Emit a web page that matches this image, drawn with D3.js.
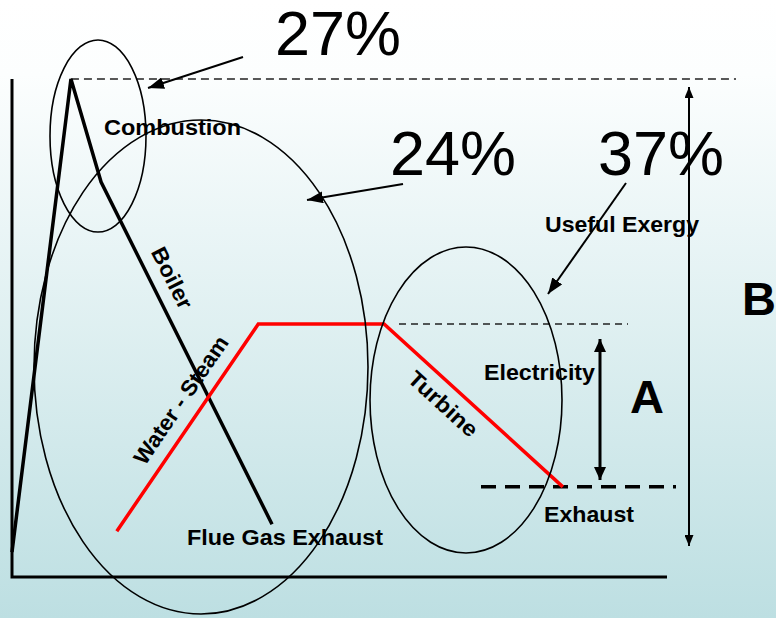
<!DOCTYPE html>
<html><head><meta charset="utf-8">
<script src="https://cdn.jsdelivr.net/npm/d3@7"></script>
<style>html,body{margin:0;padding:0;background:#fff;}svg{display:block;}</style>
</head><body>
<script>
// ---- data (abstract units: x = process stage 0..100, y = exergy level 0..100) ----
const fluePath = [ {x:0, y:5.0}, {x:9.0, y:100}, {x:13.6, y:79.3}, {x:39.7, y:10.6} ];
const steamPath = [ {x:16.0, y:9.2}, {x:37.6, y:50.8}, {x:56.8, y:50.8}, {x:84.1, y:18.1} ];
const topLevel = 100;
const electricityLevel = 50.8;
const exhaustLevel = 18.1;
const lossLabels = ["27%", "24%", "37%"];
const stageLabels = ["Combustion", "Boiler", "Water - Steam", "Turbine", "Flue Gas Exhaust", "Electricity", "Exhaust", "Useful Exergy"];

const W = 776, H = 618;
const x = d3.scaleLinear().domain([0, 100]).range([12, 667]);
const y = d3.scaleLinear().domain([0, 100]).range([577, 79]);

const svg = d3.select("body").append("svg").attr("width", W).attr("height", H);
const defs = svg.append("defs");
const grad = defs.append("linearGradient").attr("id","bg").attr("x1",0).attr("y1",0).attr("x2",0).attr("y2",1);
grad.append("stop").attr("offset","0%").attr("stop-color","#ffffff");
grad.append("stop").attr("offset","12%").attr("stop-color","#fcfefe");
grad.append("stop").attr("offset","100%").attr("stop-color","#bddfe2");
svg.append("rect").attr("width",W).attr("height",H).attr("fill","url(#bg)");

function marker(id, len, wid) {
  defs.append("marker").attr("id", id).attr("viewBox", `0 0 ${len} ${wid}`)
    .attr("refX", len).attr("refY", wid/2).attr("markerWidth", len).attr("markerHeight", wid)
    .attr("markerUnits","userSpaceOnUse").attr("orient","auto-start-reverse")
    .append("path").attr("d", `M0,0L${len},${wid/2}L0,${wid}Z`).attr("fill","#000");
}
marker("ah", 16, 12);
marker("ahA", 13, 12);
marker("ahB", 11, 9);

const font = "'Liberation Sans', Arial, Helvetica, sans-serif";

// axes
const axis = svg.append("g").attr("stroke","#000").attr("stroke-width",3).attr("fill","none");
axis.append("path").attr("d", d3.line()([[x(0), y(100)], [x(0), y(0)], [x(100), y(0)]]));

// reference dashed lines
svg.append("line").attr("x1", x(9.0)).attr("x2", 736).attr("y1", y(topLevel)).attr("y2", y(topLevel))
  .attr("stroke","#222").attr("stroke-width",1.6).attr("stroke-dasharray","8,5");
svg.append("line").attr("x1", 399).attr("x2", 628).attr("y1", y(electricityLevel)).attr("y2", y(electricityLevel))
  .attr("stroke","#222").attr("stroke-width",1.5).attr("stroke-dasharray","7,5");
svg.append("line").attr("x1", 481).attr("x2", 676).attr("y1", y(exhaustLevel)).attr("y2", y(exhaustLevel))
  .attr("stroke","#000").attr("stroke-width",3.5).attr("stroke-dasharray","15,9");

const line = d3.line().x(d => x(d.x)).y(d => y(d.y));
svg.append("path").datum(fluePath).attr("d", line).attr("fill","none")
  .attr("stroke","#000").attr("stroke-width",3.5).attr("stroke-linejoin","miter");
svg.append("path").datum(steamPath).attr("d", line).attr("fill","none")
  .attr("stroke","#f00").attr("stroke-width",3.5).attr("stroke-linejoin","miter");

// ellipses
const ell = svg.append("g").attr("fill","none").attr("stroke","#000").attr("stroke-width",1.6);
[[98,136,48,96],[201,367,167,247],[466,400,96,153]].forEach(e =>
  ell.append("ellipse").attr("cx",e[0]).attr("cy",e[1]).attr("rx",e[2]).attr("ry",e[3]));

// pointer arrows
const arr = svg.append("g").attr("stroke","#000").attr("stroke-width",2).attr("fill","none");
[[243,57,148,88],[403,184,307,200],[626,183,548,294]].forEach(a =>
  arr.append("line").attr("x1",a[0]).attr("y1",a[1]).attr("x2",a[2]).attr("y2",a[3]).attr("marker-end","url(#ah)"));

// A double arrow
svg.append("line").attr("x1",600).attr("x2",600).attr("y1",339).attr("y2",480)
  .attr("stroke","#000").attr("stroke-width",3).attr("marker-start","url(#ahA)").attr("marker-end","url(#ahA)");
// B double arrow
svg.append("line").attr("x1",689).attr("x2",689).attr("y1",87).attr("y2",546)
  .attr("stroke","#000").attr("stroke-width",2).attr("marker-start","url(#ahB)").attr("marker-end","url(#ahB)");

// percent labels
const pct = [[275,55],[390,175],[598,175]];
lossLabels.forEach((t,i) => svg.append("text").attr("x",pct[i][0]).attr("y",pct[i][1])
  .attr("font-family",font).attr("font-size",63).attr("textLength",126).attr("lengthAdjust","spacingAndGlyphs").text(t));

// big letters
svg.append("text").attr("x",630).attr("y",413).attr("font-family",font).attr("font-weight","bold").attr("font-size",47).text("A");
svg.append("text").attr("x",742).attr("y",315).attr("font-family",font).attr("font-weight","bold").attr("font-size",47).text("B");

// stage labels
const lab = [
  {t:stageLabels[0], x:104, y:135, len:137},
  {t:stageLabels[4], x:187, y:545, len:196},
  {t:stageLabels[5], x:484, y:380, len:111},
  {t:stageLabels[6], x:544, y:522, len:90},
  {t:stageLabels[7], x:545, y:232, len:154}
];
lab.forEach(d => svg.append("text").attr("x",d.x).attr("y",d.y).attr("font-family",font)
  .attr("font-weight","bold").attr("font-size",22).attr("textLength",d.len).attr("lengthAdjust","spacingAndGlyphs").text(d.t));

const rot = [
  {t:stageLabels[1], cx:172, cy:278, a:63.4, len:66},
  {t:stageLabels[2], cx:181, cy:400, a:-55.7, len:150},
  {t:stageLabels[3], cx:443, cy:404, a:42.3, len:86}
];
rot.forEach(d => svg.append("text").attr("transform",`translate(${d.cx},${d.cy}) rotate(${d.a})`)
  .attr("text-anchor","middle").attr("dominant-baseline","central").attr("font-family",font)
  .attr("font-weight","bold").attr("font-size",22).attr("textLength",d.len).attr("lengthAdjust","spacingAndGlyphs").text(d.t));
</script>
</body></html>
